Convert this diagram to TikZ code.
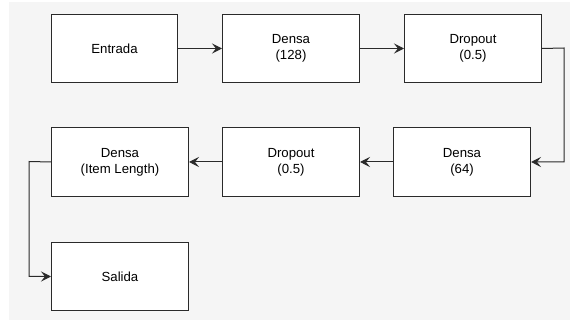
\documentclass[tikz,border=0pt]{standalone}
\usepackage{fontspec}
\setmainfont{Liberation Sans}
\usetikzlibrary{arrows.meta}
\definecolor{bg}{HTML}{F5F5F5}
\definecolor{ln}{HTML}{2A2A2A}
\tikzset{
  blk/.style={draw=ln, fill=white, line width=1pt, rectangle, inner sep=0pt, align=center,
    font=\fontsize{13.2}{16}\selectfont, anchor=north west},
  conn/.style={draw=ln, line width=1pt, -{Stealth[length=10pt,width=10pt,inset=4pt]}}
}
\begin{document}
\begin{tikzpicture}[x=1pt,y=-1pt]
\useasboundingbox (0,0) rectangle (570,320);
\fill[bg] (9,2) rectangle (570,320);
\node[blk, minimum width=126pt, minimum height=68pt] (in) at (51,14) {Entrada};
\node[blk, minimum width=137pt, minimum height=68pt] (d1) at (222,14) {Densa\\(128)};
\node[blk, minimum width=137pt, minimum height=68pt] (p1) at (404,14) {Dropout\\(0.5)};
\node[blk, minimum width=137pt, minimum height=69pt] (d2) at (393,127) {Densa\\(64)};
\node[blk, minimum width=137pt, minimum height=69pt] (p2) at (222,127) {Dropout\\(0.5)};
\node[blk, minimum width=137pt, minimum height=69pt] (d3) at (51,127) {Densa\\(Item Length)};
\node[blk, minimum width=137pt, minimum height=68pt] (out) at (51,242) {Salida};
\coordinate (c1) at (564,48);
\coordinate (c2) at (29,161.5);
\draw[conn] (in.east) -- (d1.west);
\draw[conn] (d1.east) -- (p1.west);
\draw[conn] (p1.east) -- (c1) |- (d2.east);
\draw[conn] (d2.west) -- (p2.east);
\draw[conn] (p2.west) -- (d3.east);
\draw[conn] (d3.west) -- (c2) |- (out.west);
\end{tikzpicture}
\end{document}
